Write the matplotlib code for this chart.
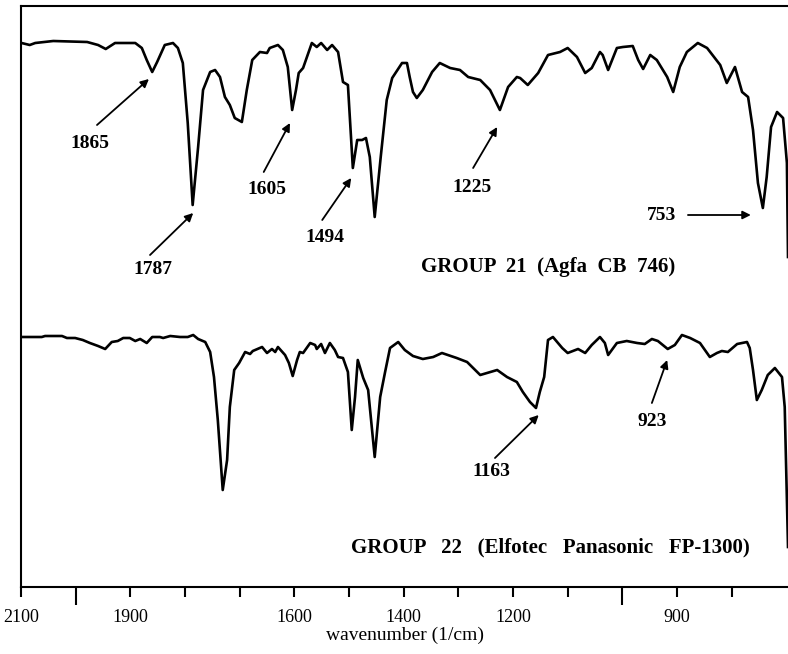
import numpy as np
import matplotlib
matplotlib.use("Agg")
import matplotlib.pyplot as plt

plt.rcParams['font.family'] = ['Liberation Serif', 'DejaVu Serif']

# upper trace: GROUP 21 (wavenumber, transmittance in arbitrary units)
wn_21 = [2099, 2084, 2074, 2041, 1979, 1959, 1945, 1928, 1891, 1879, 1870, 1860,
         1851, 1837, 1822, 1813, 1804, 1795, 1786, 1776, 1767, 1754, 1745, 1736,
         1727, 1718, 1709, 1696, 1687, 1677, 1663, 1650, 1645, 1630, 1621, 1612,
         1604, 1597, 1592, 1584, 1568, 1559, 1551, 1540, 1531, 1520, 1511, 1502,
         1493, 1485, 1476, 1469, 1462, 1453, 1442, 1431, 1421, 1403, 1394, 1389,
         1383, 1376, 1365, 1348, 1334, 1315, 1297, 1282, 1260, 1242, 1224, 1209,
         1193, 1187, 1173, 1154, 1136, 1114, 1100, 1083, 1068, 1056, 1041, 1036,
         1026, 1010, 999, 981, 971, 962, 949, 937, 918, 907, 895, 882, 862, 845,
         821, 809, 794, 781, 770, 761, 752, 743, 736, 728, 717, 706, 699, 697]
tr_21 = [544, 542, 544, 546, 545, 542, 538, 544, 544, 539, 527, 515,
         525, 542, 544, 539, 524, 464, 382, 440, 497, 515, 517, 510,
         490, 482, 469, 465, 497, 527, 535, 534, 539, 542, 537, 520,
         477, 497, 514, 519, 544, 540, 544, 537, 542, 535, 505, 502,
         419, 447, 447, 449, 430, 370, 430, 487, 509, 524, 524, 510,
         495, 489, 497, 515, 524, 519, 517, 510, 507, 497, 477, 500,
         510, 509, 502, 514, 532, 535, 539, 530, 514, 519, 535, 532,
         517, 539, 540, 541, 527, 518, 532, 527, 510, 495, 520, 535, 544, 539,
         522, 504, 520, 495, 490, 457, 404, 379, 410, 460, 475, 469, 424, 330]

# lower trace: GROUP 22
wn_22 = [2099, 2062, 2056, 2025, 2016, 2001, 1987, 1974, 1959, 1946, 1934, 1923,
         1913, 1901, 1891, 1882, 1870, 1860, 1846, 1840, 1827, 1809, 1795, 1785,
         1776, 1763, 1754, 1747, 1740, 1731, 1723, 1718, 1710, 1701, 1690, 1681,
         1676, 1659, 1650, 1641, 1635, 1630, 1617, 1610, 1603, 1595, 1590, 1584,
         1571, 1562, 1559, 1551, 1544, 1535, 1526, 1520, 1511, 1502, 1495, 1489,
         1484, 1474, 1465, 1453, 1443, 1434, 1425, 1410, 1398, 1383, 1365, 1346,
         1330, 1303, 1284, 1260, 1229, 1211, 1193, 1182, 1169, 1158, 1151, 1143,
         1136, 1127, 1110, 1100, 1081, 1068, 1056, 1041, 1032, 1026, 1010, 992,
         973, 959, 946, 935, 917, 904, 891, 876, 858, 840, 827, 818, 807, 790,
         772, 767, 761, 754, 745, 734, 721, 708, 703, 699, 697]
tr_22 = [250, 250, 251, 251, 249, 249, 247, 244, 241, 238, 245, 246,
         249, 249, 246, 248, 244, 250, 250, 249, 251, 250, 250, 252,
         248, 245, 235, 210, 167, 97, 127, 180, 217, 224, 235, 233,
         236, 240, 234, 238, 235, 240, 232, 224, 211, 227, 235, 234,
         244, 242, 238, 243, 234, 244, 237, 230, 229, 215, 157, 190,
         227, 209, 197, 130, 190, 215, 239, 245, 237, 231, 228, 230,
         234, 229, 225, 212, 217, 210, 205, 195, 185, 179, 195, 210,
         247, 250, 239, 234, 238, 234, 242, 250, 244, 232, 244, 246,
         244, 243, 248, 246, 238, 242, 252, 249, 244, 230, 234, 236, 235, 243,
         245, 239, 217, 187, 197, 212, 219, 210, 180, 87, 40]

# peak labels: text, text position, arrow tail, arrow tip
peak_labels = ['1865', '1787', '1605', '1494', '1225', '753', '1163', '923']
label_pos = [(1974, 444), (1859, 317), (1650, 397), (1544, 349), (1275, 400),
             (928, 372), (1239, 115), (946, 165)]
arrow_tail = [(1961, 462), (1864, 332), (1656, 415), (1549, 367), (1273, 419),
              (880, 372), (1233, 129), (946, 184)]
arrow_tip = [(1866, 508), (1785, 374), (1608, 464), (1496, 409), (1229, 460),
             (765, 372), (1153, 172), (918, 227)]

group_names = ['GROUP  21  (Agfa  CB  746)',
               'GROUP   22   (Elfotec   Panasonic   FP-1300)']
group_pos = [(1136, 320), (1132, 40)]

tick_values = [2100, 1900, 1800, 1700, 1600, 1500, 1400, 1300, 1200, 1100,
               900, 800]
tick_labels = ['2100', '1900', '', '', '1600', '', '1400', '', '1200', '',
               '900', '']
long_ticks = [2000, 1000]

fig = plt.figure(figsize=(7.88, 6.54), dpi=100)
ax = fig.add_axes([21 / 788, 1 - 587 / 654, 767 / 788, 581 / 654])

ax.plot(wn_21, tr_21, color='black', lw=1.9, solid_joinstyle='round')
ax.plot(wn_22, tr_22, color='black', lw=1.9, solid_joinstyle='round')

for lab, tp, tail, tip in zip(peak_labels, label_pos, arrow_tail, arrow_tip):
    ax.text(tp[0], tp[1], lab, ha='center', va='center', fontsize=14,
            fontweight='bold')
    ax.annotate('', xy=tip, xytext=tail,
                arrowprops=dict(arrowstyle='-|>', color='black', lw=1.3,
                                mutation_scale=12, shrinkA=0, shrinkB=0))

for name, pos in zip(group_names, group_pos):
    ax.text(pos[0], pos[1], name, ha='center', va='center', fontsize=15,
            fontweight='bold')

ax.set_xlim(2100, 697)
ax.set_ylim(0, 581)
ax.set_yticks([])
ax.set_xticks(tick_values)
ax.set_xticklabels(tick_labels, fontsize=13)
ax.set_xticks(long_ticks, minor=True)
ax.tick_params(axis='x', which='major', length=7, width=1.5, pad=9)
ax.tick_params(axis='x', which='minor', length=13, width=1.5)
ax.set_xlabel('wavenumber (1/cm)', fontsize=14, labelpad=0)

ax.spines['right'].set_visible(False)
for s in ['left', 'top', 'bottom']:
    ax.spines[s].set_linewidth(1.5)

fig.savefig('out.png', dpi=100)
